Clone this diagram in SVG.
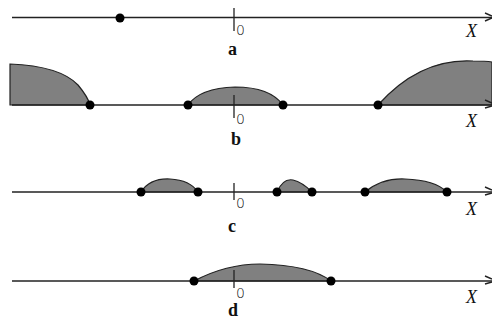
<svg xmlns="http://www.w3.org/2000/svg" width="492" height="322" viewBox="0 0 492 322">
<style>
.ax{stroke:#222;stroke-width:1.5;fill:none}
.tk{stroke:#222;stroke-width:1.3}
.rg{fill:#808080;stroke:#222;stroke-width:1.2}
.dot{fill:#000}
.zero{font-family:"DejaVu Sans",sans-serif;font-size:14px;font-weight:300;fill:#111}
.lbl{font-family:"Liberation Serif",serif;font-size:18px;font-weight:bold;fill:#111}
.x{font-family:"Liberation Serif",serif;font-size:18px;font-style:italic;fill:#111}
</style>
<g id="regions">
<path class="rg" d="M10,64 Q60,66 78,85 Q88,97 90,105 L10,105 Z"/>
<path class="rg" d="M188,105 Q200,88 235,87 Q270,87 283,105 Z"/>
<path class="rg" d="M378,105 Q420,58 473,61 Q486,61 492,62 L492,105 Z"/>
<path class="rg" d="M141,192 Q150,178 170,179 Q190,180 198,192 Z"/>
<path class="rg" d="M277,192 Q283,178 293,180 Q302,182 312,192 Z"/>
<path class="rg" d="M365,192 Q382,178 405,179 Q435,180 447,192 Z"/>
<path class="rg" d="M194,281 Q226,264 260,264 Q310,265 331,281 Z"/>
</g>
<g id="connectors">
<line class="ax" x1="12" y1="17.5" x2="492" y2="17.5"/>
<line class="ax" x1="12" y1="105" x2="492" y2="105"/>
<line class="ax" x1="12" y1="192" x2="492" y2="192"/>
<line class="ax" x1="12" y1="281" x2="492" y2="281"/>
<path class="ax" d="M485,13 L492,16 M485,21 L492,18" stroke-width="1"/>
<path class="ax" d="M485,100 L492,103 M485,108 L492,106" stroke-width="1"/>
<path class="ax" d="M485,187 L492,190 M485,195 L492,193" stroke-width="1"/>
<path class="ax" d="M485,276 L492,279 M485,284 L492,282" stroke-width="1"/>
<line class="tk" x1="234" y1="8" x2="234" y2="31"/>
<line class="tk" x1="234" y1="95" x2="234" y2="118"/>
<line class="tk" x1="234" y1="183" x2="234" y2="200"/>
<line class="tk" x1="234" y1="270" x2="234" y2="288"/>
</g>
<g id="a">
<circle class="dot" cx="120" cy="18" r="4.5"/>
<text class="zero" x="236" y="35">0</text>
<text class="lbl" x="228" y="55">a</text>
<text class="x" x="466" y="37">X</text>
</g>
<g id="b">
<circle class="dot" cx="90" cy="105" r="4.5"/>
<circle class="dot" cx="188" cy="105" r="4.5"/>
<circle class="dot" cx="283" cy="105" r="4.5"/>
<circle class="dot" cx="378" cy="105" r="4.5"/>
<text class="zero" x="236" y="124">0</text>
<text class="lbl" x="231" y="145">b</text>
<text class="x" x="466" y="127">X</text>
</g>
<g id="c">
<circle class="dot" cx="141" cy="192" r="4.5"/>
<circle class="dot" cx="198" cy="192" r="4.5"/>
<circle class="dot" cx="277" cy="192" r="4.5"/>
<circle class="dot" cx="312" cy="192" r="4.5"/>
<circle class="dot" cx="365" cy="192" r="4.5"/>
<circle class="dot" cx="447" cy="192" r="4.5"/>
<text class="zero" x="236" y="208">0</text>
<text class="lbl" x="228" y="232">c</text>
<text class="x" x="466" y="215">X</text>
</g>
<g id="d">
<circle class="dot" cx="194" cy="281" r="4.5"/>
<circle class="dot" cx="331" cy="281" r="4.5"/>
<text class="zero" x="236" y="298">0</text>
<text class="lbl" x="228" y="316">d</text>
<text class="x" x="466" y="303">X</text>
</g>
</svg>
